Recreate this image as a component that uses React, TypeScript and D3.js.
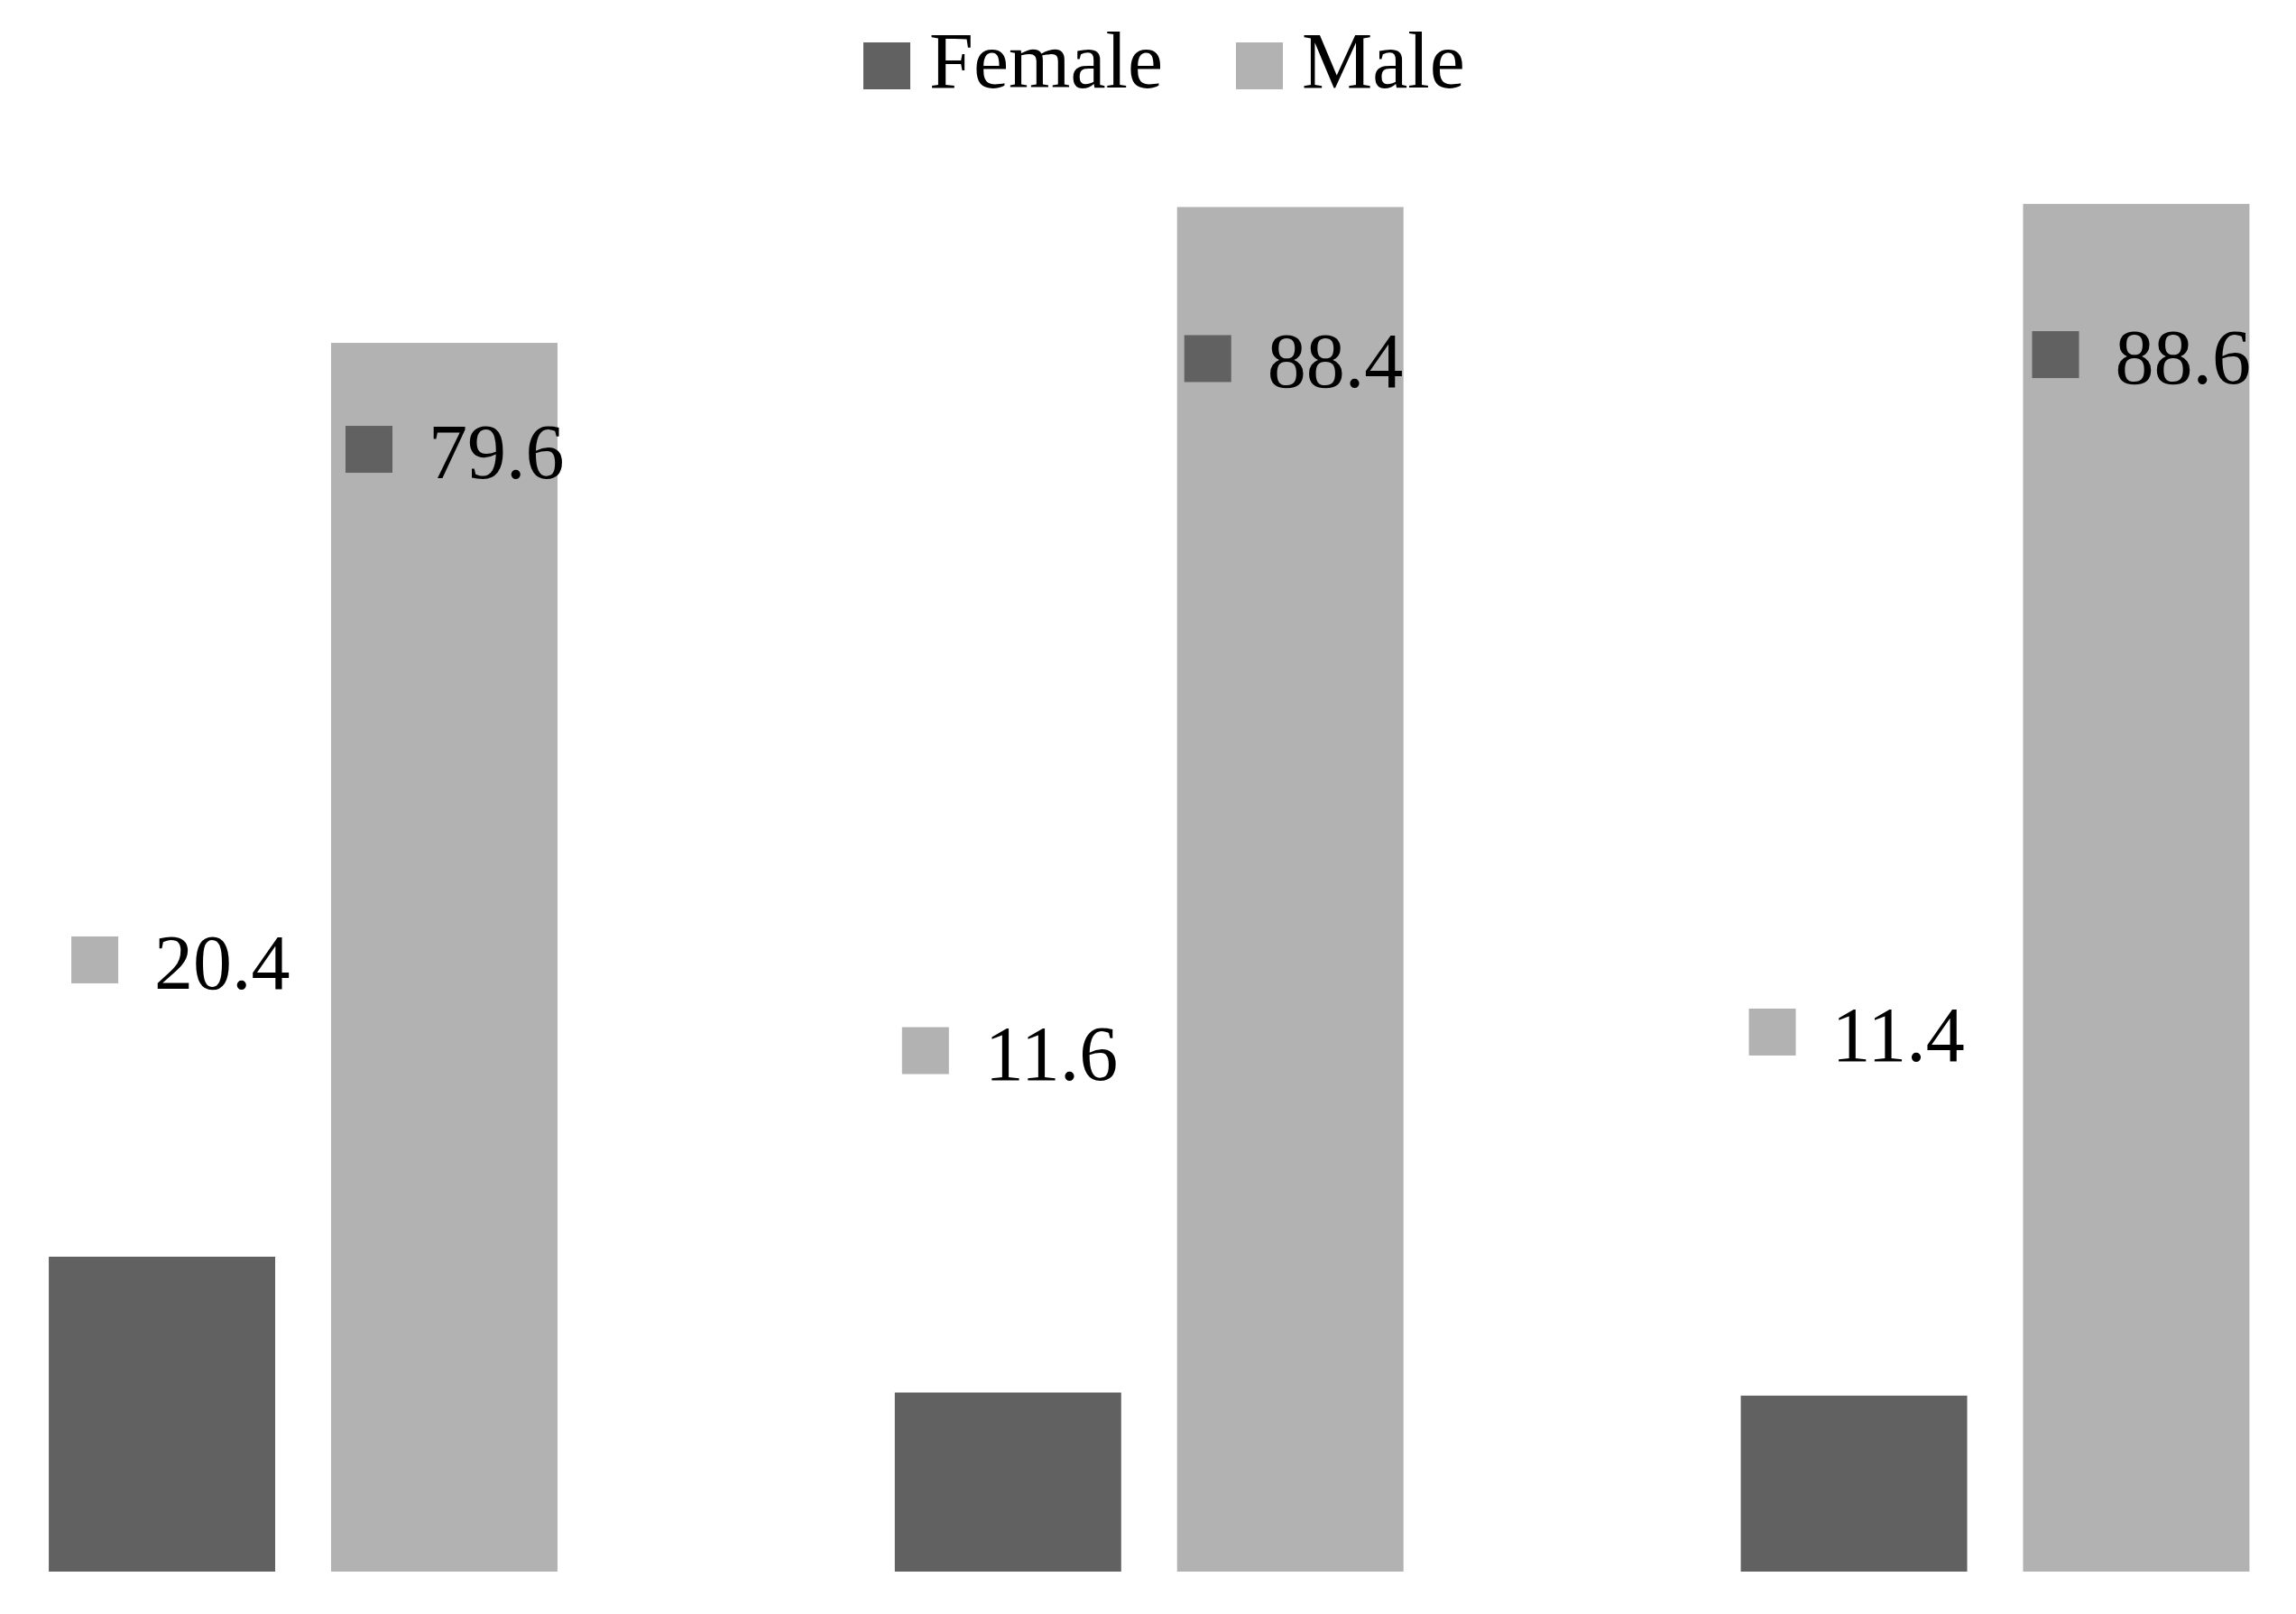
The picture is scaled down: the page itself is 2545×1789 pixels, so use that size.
import React from "react";
import * as d3 from "d3";

// ---- data ----
const categories = ["Group 1", "Group 2", "Group 3"];
const seriesNames = ["Female", "Male"];
const femaleValues = [20.4, 11.6, 11.4];
const maleValues = [79.6, 88.4, 88.6];

// ---- layout / style config ----
const W = 2545;
const H = 1789;
const COLORS: Record<string, string> = { Female: "#616161", Male: "#b2b2b2" };
// label keys use the other series' colour, as in the reference
const LABEL_KEY: Record<string, string> = { Female: "#b2b2b2", Male: "#616161" };
const FONT = "'Palatino Linotype', 'Book Antiqua', Palatino, 'Liberation Serif', 'Times New Roman', serif";
// manual label nudges (px) relative to bar left / bar top, per series per group
const labelNudgeX: Record<string, number[]> = { Female: [25, 8, 9], Male: [16, 8, 10] };
const labelNudgeY: Record<string, number[]> = { Female: [-355, -405, -429], Male: [92, 142, 141] };

export default function App() {
  const x0 = d3
    .scaleBand<string>()
    .domain(categories)
    .range([2.5, W])
    .paddingInner(0.3987)
    .paddingOuter(0.055);
  const x1 = d3
    .scaleBand<string>()
    .domain(seriesNames)
    .range([0, x0.bandwidth()])
    .paddingInner(0.198);
  const y = d3.scaleLinear().domain([0, 100]).range([1742, 31]);

  const valuesBySeries: Record<string, number[]> = { Female: femaleValues, Male: maleValues };
  const keySize = 52;

  const legendItems = [
    { name: "Female", x: 957 },
    { name: "Male", x: 1370 },
  ];

  return (
    <svg
      width={W}
      height={H}
      viewBox={`0 0 ${W} ${H}`}
      style={{ position: "absolute", left: 0, top: 0, display: "block", background: "#fff" }}
    >
      <rect x={0} y={0} width={W} height={H} fill="#fff" />
      {/* legend */}
      {legendItems.map((it) => (
        <g key={it.name}>
          <rect x={it.x} y={47} width={keySize} height={keySize} fill={COLORS[it.name]} />
          <text x={it.x + keySize + 21} y={97} fontFamily={FONT} fontSize={88} fill="#000">
            {it.name}
          </text>
        </g>
      ))}
      {/* bars */}
      {categories.map((c, i) => (
        <g key={c} transform={`translate(${x0(c)},0)`}>
          {seriesNames.map((s) => {
            const v = valuesBySeries[s][i];
            return (
              <rect
                key={s}
                x={x1(s)}
                y={y(v)}
                width={x1.bandwidth()}
                height={y(0) - y(v)}
                fill={COLORS[s]}
              />
            );
          })}
        </g>
      ))}
      {/* data labels */}
      {categories.map((c, i) => (
        <g key={c + "-lab"} transform={`translate(${x0(c)},0)`}>
          {seriesNames.map((s) => {
            const v = valuesBySeries[s][i];
            const lx = (x1(s) as number) + labelNudgeX[s][i];
            const ly = y(v) + labelNudgeY[s][i];
            return (
              <g key={s}>
                <rect x={lx} y={ly} width={keySize} height={keySize} fill={LABEL_KEY[s]} />
                <text x={lx + 92} y={ly + 58} fontFamily={FONT} fontSize={86} fill="#000">
                  {v.toFixed(1)}
                </text>
              </g>
            );
          })}
        </g>
      ))}
    </svg>
  );
}
